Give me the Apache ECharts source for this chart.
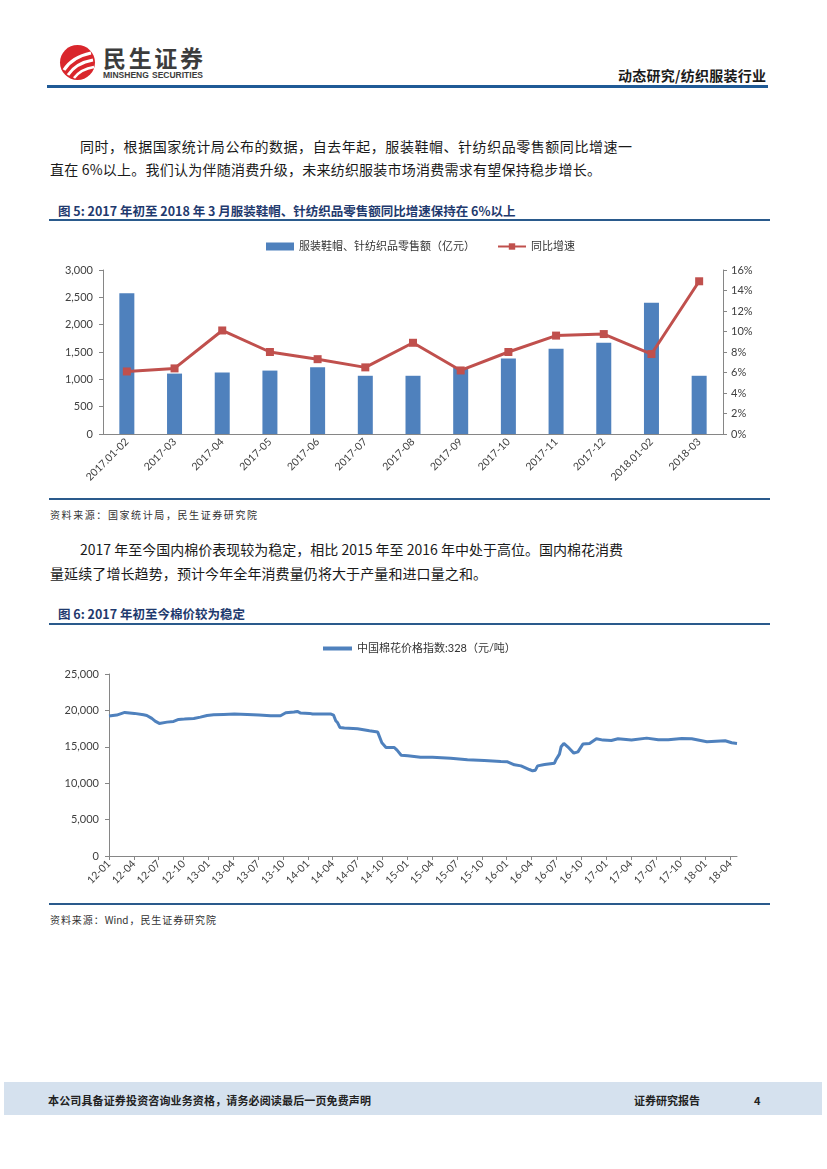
<!DOCTYPE html>
<html><head><meta charset="utf-8">
<script src="https://cdn.jsdelivr.net/npm/echarts@6/dist/echarts.min.js"></script>
<style>
body{margin:0;width:827px;height:1169px;position:relative;background:#fff;font-family:'Noto Sans CJK SC',sans-serif;overflow:hidden;color:#1a1a1a}
.abs{position:absolute;white-space:nowrap}
.j{text-align:justify;text-align-last:justify}
.hl{position:absolute;height:2px;background:#2a5a8c}
</style></head>
<body>
<svg class="abs" style="left:58px;top:43px" width="40" height="40" viewBox="0 0 40 40">
  <circle cx="19.5" cy="19.5" r="17.5" fill="#d9262c"/>
  <path d="M6,27 Q14,14 33,10" stroke="#fff" stroke-width="3.2" fill="none"/>
  <path d="M10,32 Q18,20 35,17" stroke="#fff" stroke-width="3" fill="none"/>
  <path d="M16,35 Q23,26 36,24" stroke="#fff" stroke-width="2.6" fill="none"/>
</svg>
<div class="abs j" style="left:103px;top:44px;width:100px;font-size:23px;line-height:26px;font-weight:bold;color:#3c3c3c">民生证券</div>
<div class="abs j" style="left:103px;top:70px;width:100px;font-size:8.5px;line-height:10px;font-weight:bold;color:#3c3c3c;font-family:'Liberation Sans',sans-serif">MINSHENG SECURITIES</div>
<div class="abs j" style="left:618px;top:66px;width:148px;font-size:14px;line-height:18px;font-weight:bold;color:#1a1a1a">动态研究/纺织服装行业</div>
<div class="hl" style="left:47px;top:85px;width:721px;height:2.5px;background:#1f5a96"></div>

<div class="abs j" style="left:80px;top:136px;width:552px;font-size:14px;line-height:20px">同时，根据国家统计局公布的数据，自去年起，服装鞋帽、针纺织品零售额同比增速一</div>
<div class="abs j" style="left:50px;top:159px;width:551px;font-size:14px;line-height:20px">直在 6%以上。我们认为伴随消费升级，未来纺织服装市场消费需求有望保持稳步增长。</div>

<div class="abs j" style="left:58px;top:202px;width:455px;font-size:12.5px;line-height:18px;font-weight:bold;color:#1f3a6e">图 5: 2017 年初至 2018 年 3 月服装鞋帽、针纺织品零售额同比增速保持在 6%以上</div>
<div class="hl" style="left:49px;top:219px;width:721px"></div>

<div id="c1" class="abs" style="left:0;top:230px;width:827px;height:268px"></div>

<div class="hl" style="left:49px;top:498px;width:721px"></div>
<div class="abs j" style="left:50px;top:507px;width:207px;font-size:10px;line-height:16px;color:#333">资料来源：国家统计局，民生证券研究院</div>

<div class="abs j" style="left:80px;top:539px;width:543px;font-size:14px;line-height:20px">2017 年至今国内棉价表现较为稳定，相比 2015 年至 2016 年中处于高位。国内棉花消费</div>
<div class="abs j" style="left:50px;top:563px;width:437px;font-size:14px;line-height:20px">量延续了增长趋势，预计今年全年消费量仍将大于产量和进口量之和。</div>

<div class="abs j" style="left:58px;top:605px;width:185px;font-size:12.5px;line-height:18px;font-weight:bold;color:#1f3a6e">图 6: 2017 年初至今棉价较为稳定</div>
<div class="hl" style="left:49px;top:623px;width:721px"></div>

<div id="c2" class="abs" style="left:0;top:630px;width:827px;height:272px"></div>

<div class="hl" style="left:49px;top:903px;width:721px"></div>
<div class="abs j" style="left:50px;top:912px;width:166px;font-size:10px;line-height:16px;color:#333">资料来源：Wind，民生证券研究院</div>

<div class="abs" style="left:4px;top:1082px;width:818px;height:33px;background:#d5e1ee"></div>
<div class="abs j" style="left:48px;top:1091px;width:323px;font-size:11px;line-height:18px;font-weight:bold;color:#222">本公司具备证券投资咨询业务资格，请务必阅读最后一页免费声明</div>
<div class="abs j" style="left:634px;top:1091px;width:66px;font-size:11px;line-height:18px;font-weight:bold;color:#222">证券研究报告</div>
<div class="abs" style="left:754px;top:1091px;font-size:11px;line-height:18px;font-weight:bold;color:#222">4</div>

<script>
// ---- Figure 5 data ----
const retailCategories = ['2017.01-02','2017-03','2017-04','2017-05','2017-06','2017-07','2017-08','2017-09','2017-10','2017-11','2017-12','2018.01-02','2018-03'];
const retailValues = [2575,1105,1125,1160,1220,1065,1065,1210,1380,1560,1670,2400,1065];
const growthValues = [6.1,6.4,10.1,8.0,7.3,6.5,8.9,6.2,8.0,9.6,9.75,7.8,14.9];
const retailName = '服装鞋帽、针纺织品零售额（亿元）';
const growthName = '同比增速';

// ---- Figure 6 data ----
const priceName = '中国棉花价格指数:328（元/吨）';
const priceDates = ['2012-01-01','2012-01-29','2012-02-28','2012-04-03','2012-05-06','2012-05-18','2012-06-06','2012-06-18','2012-07-03','2012-07-31','2012-08-25','2012-09-13','2012-10-04','2012-11-08','2012-12-02','2012-12-26','2013-01-20','2013-02-26','2013-04-05','2013-05-22','2013-07-04','2013-08-16','2013-09-22','2013-10-11','2013-11-11','2013-11-23','2013-12-05','2014-01-07','2014-01-18','2014-03-25','2014-04-04','2014-04-12','2014-04-19','2014-04-27','2014-05-13','2014-07-01','2014-08-14','2014-09-14','2014-09-20','2014-09-29','2014-10-14','2014-11-14','2014-11-24','2014-12-09','2015-01-03','2015-02-19','2015-04-02','2015-06-08','2015-08-09','2015-10-10','2015-12-10','2016-01-04','2016-01-29','2016-02-23','2016-03-23','2016-04-05','2016-04-15','2016-04-23','2016-05-18','2016-06-24','2016-06-30','2016-07-12','2016-07-18','2016-07-28','2016-08-12','2016-09-04','2016-09-19','2016-10-07','2016-11-01','2016-11-26','2016-12-20','2017-01-20','2017-02-14','2017-04-03','2017-05-28','2017-07-10','2017-08-16','2017-10-05','2017-11-11','2018-01-06','2018-03-12','2018-04-06','2018-04-25'];
const priceValues = [19220,19360,19720,19590,19400,19310,18900,18530,18210,18390,18490,18760,18810,18900,19080,19310,19400,19450,19500,19450,19360,19270,19270,19680,19770,19860,19630,19590,19500,19500,19360,18580,18300,17660,17570,17480,17200,17020,16830,15550,14910,14910,14540,13850,13760,13580,13580,13440,13210,13120,12980,12940,12520,12380,11880,11700,11790,12380,12570,12750,13260,13990,15000,15460,15000,14130,14310,15370,15460,16100,15920,15870,16100,15920,16190,15960,15960,16150,16100,15690,15830,15550,15460];
const priceTickLabels = ['12-01','12-04','12-07','12-10','13-01','13-04','13-07','13-10','14-01','14-04','14-07','14-10','15-01','15-04','15-07','15-10','16-01','16-04','16-07','16-10','17-01','17-04','17-07','17-10','18-01','18-04'];

const FONT = "Lato, 'Noto Sans CJK SC', sans-serif";
const AX = '#868686';
const LBL = '#404040';
const comma = v => String(v).replace(/\B(?=(\d{3})+(?!\d))/g, ',');

const c1 = echarts.init(document.getElementById('c1'));
c1.setOption({
  animation: false,
  textStyle: {fontFamily: FONT},
  legend: {
    left: 261, top: 6, itemWidth: 28, itemHeight: 8, itemGap: 22,
    textStyle: {fontSize: 11, color: '#333', fontFamily: FONT},
    data: [{name: retailName, icon: 'rect'}, {name: growthName}]
  },
  grid: {left: 103, right: 104, top: 40, height: 164},
  xAxis: {
    type: 'category', data: retailCategories, boundaryGap: true,
    axisLine: {lineStyle: {color: AX}}, axisTick: {length: 4, lineStyle: {color: AX}},
    axisLabel: {rotate: 45, interval: 0, fontSize: 10.5, color: LBL, margin: 6, fontFamily: FONT}
  },
  yAxis: [
    {type: 'value', min: 0, max: 3000, interval: 500,
     axisLine: {show: true, lineStyle: {color: AX}}, axisTick: {show: true, length: 4, lineStyle: {color: AX}},
     splitLine: {show: false},
     axisLabel: {fontSize: 11, color: LBL, margin: 10, formatter: v => comma(v), fontFamily: FONT}},
    {type: 'value', min: 0, max: 16, interval: 2, position: 'right',
     axisLine: {show: true, lineStyle: {color: AX}}, axisTick: {show: true, length: 4, lineStyle: {color: AX}},
     splitLine: {show: false},
     axisLabel: {fontSize: 11, color: LBL, margin: 8, formatter: v => v + '%', fontFamily: FONT}}
  ],
  series: [
    {name: retailName, type: 'bar', data: retailValues, barWidth: 15, itemStyle: {color: '#4f81bd'}},
    {name: growthName, type: 'line', yAxisIndex: 1, data: growthValues, symbol: 'rect', symbolSize: 8,
     lineStyle: {color: '#c0504d', width: 3}, itemStyle: {color: '#c0504d'}}
  ]
});

const toMonthIndex = s => {
  const [y, m, d] = s.split('-').map(Number);
  return (y - 2012) * 12 + (m - 1) + (d - 1) / 30;
};
const tickIndex = priceTickLabels.map(l => {
  const [y, m] = l.split('-').map(Number);
  return (2000 + y - 2012) * 12 + (m - 1);
});
const labelOf = {};
tickIndex.forEach((t, i) => labelOf[t] = priceTickLabels[i]);

const c2 = echarts.init(document.getElementById('c2'));
c2.setOption({
  animation: false,
  textStyle: {fontFamily: FONT},
  legend: {
    left: 318, top: 8, itemWidth: 29, itemHeight: 4,
    textStyle: {fontSize: 11, color: '#333', fontFamily: FONT},
    data: [{name: priceName, icon: 'rect'}]
  },
  grid: {left: 109, right: 90, top: 44, height: 182},
  xAxis: {
    type: 'value', min: 0, max: 75.8,
    splitLine: {show: false},
    axisLine: {lineStyle: {color: AX}},
    axisTick: {show: true, length: 4, lineStyle: {color: AX}, customValues: tickIndex},
    axisLabel: {rotate: 45, fontSize: 10.5, color: LBL, margin: 6, fontFamily: FONT,
      customValues: tickIndex, formatter: v => labelOf[Math.round(v)] || ''}
  },
  yAxis: {
    type: 'value', min: 0, max: 25000, interval: 5000,
    axisLine: {show: true, lineStyle: {color: AX}}, axisTick: {show: true, length: 4, lineStyle: {color: AX}},
    splitLine: {show: false},
    axisLabel: {fontSize: 11, color: LBL, margin: 10, formatter: v => comma(v), fontFamily: FONT}
  },
  series: [{
    name: priceName, type: 'line', symbol: 'none',
    data: priceDates.map((d, i) => [toMonthIndex(d), priceValues[i]]),
    lineStyle: {color: '#4f81bd', width: 3}, itemStyle: {color: '#4f81bd'}
  }]
});
</script>
</body></html>
